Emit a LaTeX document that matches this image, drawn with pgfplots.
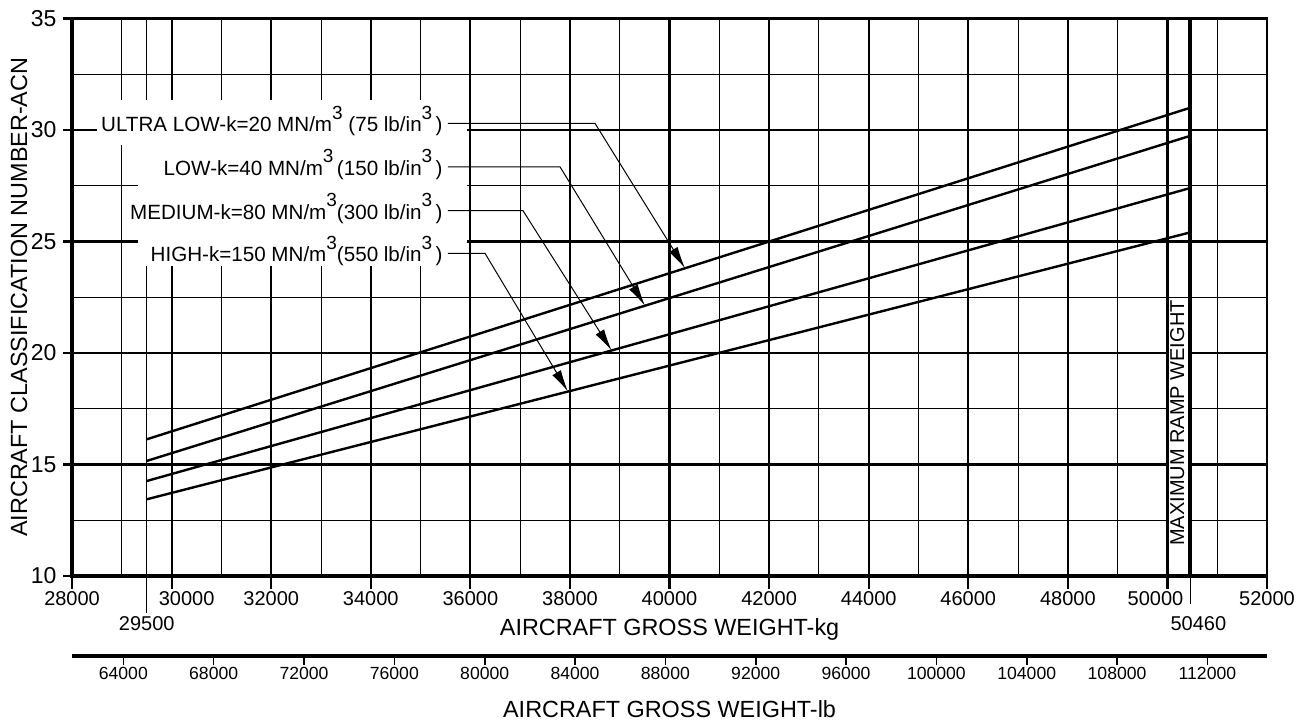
\documentclass[border=0pt]{standalone}
\usepackage{pgfplots}
\pgfplotsset{compat=1.18}
\usepackage{fontspec}
\setmainfont{Liberation Sans}
\usetikzlibrary{arrows.meta}

% superscript 3, nearly full size as on the original chart
\newcommand\cub{\raisebox{0.62em}{\fontsize{9.5}{9.5}\selectfont 3}}

\begin{document}
\begin{tikzpicture}
\begin{axis}[
  at={(0,0)}, anchor=south west,
  scale only axis, width=597.5pt, height=278.75pt,
  xmin=28000, xmax=52000, ymin=10, ymax=35,
  xtick={28000,30000,32000,34000,36000,38000,40000,42000,44000,46000,48000,50000,52000},
  xticklabels={28000,\hspace*{15pt}30000,32000,34000,36000,38000,40000,42000,44000,46000,48000,50000\hspace*{12pt},52000},
  ytick={10,15,20,25,30,35},
  minor x tick num=1, minor y tick num=1,
  minor tick length=0pt,
  grid=both,
  major grid style={black, line width=1.1pt},
  minor grid style={black, line width=0.5pt},
  tick align=outside,
  xtick pos=bottom, ytick pos=left,
  xtick style={black, line width=1.1pt, /pgfplots/major tick length=6.5pt},
  ytick style={black, line width=1.1pt, /pgfplots/major tick length=4.5pt},
  axis line style={line width=1.1pt},
  /pgf/number format/assume math mode=true,
  /pgf/number format/fixed,
  /pgf/number format/set thousands separator={},
  scaled x ticks=false,
  xticklabel style={font=\fontsize{10}{12}\selectfont},
  yticklabel style={font=\fontsize{11.5}{12}\selectfont},
  clip=false,
]
\coordinate (bbA) at (rel axis cs:-0.0603,-0.2655);
\coordinate (bbB) at (rel axis cs:1.0301,1.0332);

% 29500 kg reference line
\draw[line width=0.5pt] (axis cs:29500,35) -- (axis cs:29500,10) -- ([yshift=-18.5pt]axis cs:29500,10);
\node[anchor=north, inner sep=0, font=\fontsize{10}{12}\selectfont] at ([yshift=-20.3pt]axis cs:29500,10) {29500};

% white boxes behind the labels
\fill[white] (axis cs:28500,29.33) rectangle (axis cs:35930,31.35);
\fill[white] (axis cs:29330,23.9) rectangle (axis cs:35930,29.4);
\fill[white] (axis cs:50030,10.1) rectangle (axis cs:50440,22.4);

\addplot[black, line width=1.2pt] coordinates {(29500,16.13) (50460,31.00)};
\addplot[black, line width=1.2pt] coordinates {(29500,15.16) (50460,29.74)};
\addplot[black, line width=1.2pt] coordinates {(29500,14.26) (50460,27.40)};
\addplot[black, line width=1.2pt] coordinates {(29500,13.44) (50460,25.41)};

% maximum ramp weight
\addplot[black, line width=2pt] coordinates {(50460,10) (50460,35)};
\draw[line width=0.5pt] (axis cs:50460,10) -- ([yshift=-14pt]axis cs:50460,10);
\node[anchor=north, inner sep=0, font=\fontsize{10}{12}\selectfont] at ([yshift=-20.3pt,xshift=4pt]axis cs:50460,10) {50460};
\node[rotate=90, inner sep=0, font=\fontsize{10}{12}\selectfont] at (axis cs:50198,16.86) {MAXIMUM RAMP WEIGHT};

% labels and leaders
\begin{scope}[font=\fontsize{10.3}{12}\selectfont]
\node[anchor=base east, inner sep=0] at (axis cs:35450,29.92) {ULTRA LOW-k=20 MN/m\cub\ (75 lb/in\cub\,)};
\node[anchor=base east, inner sep=0] at (axis cs:35450,27.95) {LOW-k=40 MN/m\cub\,(150 lb/in\cub\,)};
\node[anchor=base east, inner sep=0] at (axis cs:35450,26.00) {MEDIUM-k=80 MN/m\cub(300 lb/in\cub\,)};
\node[anchor=base east, inner sep=0] at (axis cs:35450,24.09) {HIGH-k=150 MN/m\cub(550 lb/in\cub\,)};
\end{scope}
\begin{scope}[line width=0.5pt, -{Latex[length=11pt,width=5pt]}]
\draw (axis cs:35550,30.30) -- (axis cs:38502,30.30) -- (axis cs:40310,23.80);
\draw (axis cs:35550,28.35) -- (axis cs:37800,28.35) -- (axis cs:39506,22.12);
\draw (axis cs:35550,26.38) -- (axis cs:37057,26.38) -- (axis cs:38837,20.11);
\draw (axis cs:35550,24.47) -- (axis cs:36293,24.47) -- (axis cs:37960,18.27);
\end{scope}

% heavier left and bottom frame
\draw[line width=2pt] (rel axis cs:0,1) -- (rel axis cs:0,0) -- (rel axis cs:1,0);

\node[font=\fontsize{11.7}{14}\selectfont] at ([yshift=-26.5pt]rel axis cs:0.5,0) {AIRCRAFT GROSS WEIGHT-kg};
\node[rotate=90, font=\fontsize{11.7}{14}\selectfont] at ([xshift=-26.5pt]rel axis cs:0,0.5) {AIRCRAFT CLASSIFICATION NUMBER-ACN};
\end{axis}

% pound scale
\begin{axis}[
  at={(0pt,-40pt)}, anchor=south west,
  scale only axis, width=597.5pt, height=10pt,
  xmin=61729.4, xmax=114640, ymin=0, ymax=1,
  axis x line*=bottom, hide y axis,
  axis line style={line width=2pt},
  xtick={64000,68000,72000,76000,80000,84000,88000,92000,96000,100000,104000,108000,112000},
  tick align=outside,
  xtick style={black, line width=0.8pt, /pgfplots/major tick length=4.5pt},
  /pgf/number format/assume math mode=true,
  /pgf/number format/fixed,
  /pgf/number format/set thousands separator={},
  scaled x ticks=false,
  xticklabel style={font=\fontsize{8.8}{10}\selectfont, yshift=2.2pt},
  clip=false,
]
\node[font=\fontsize{11.7}{14}\selectfont] at ([yshift=-26.7pt]rel axis cs:0.5,0) {AIRCRAFT GROSS WEIGHT-lb};
\end{axis}

\pgfresetboundingbox
\useasboundingbox (bbA) rectangle (bbB);
\end{tikzpicture}
\end{document}
